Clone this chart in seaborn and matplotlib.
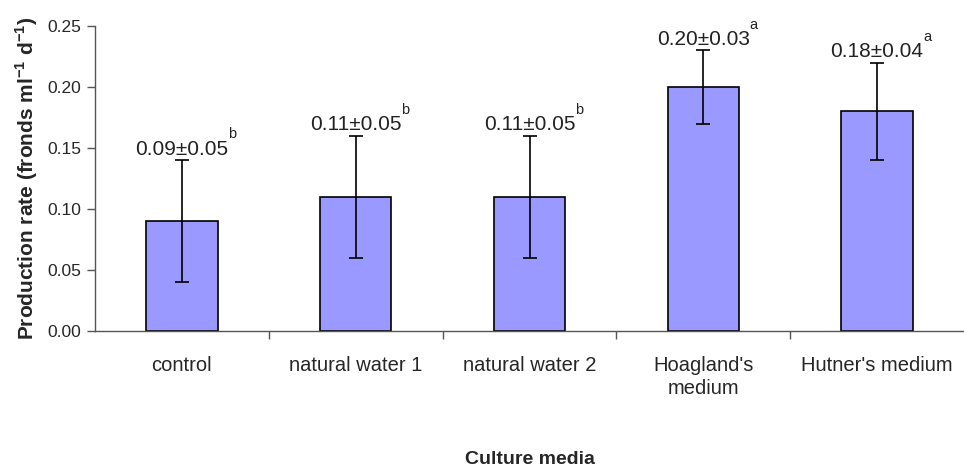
import matplotlib
matplotlib.use("Agg")
import matplotlib.pyplot as plt
import seaborn as sns
import pandas as pd
from matplotlib.ticker import FormatStrFormatter, FixedLocator

categories = ["control", "natural water 1", "natural water 2", "Hoagland's\nmedium", "Hutner's medium"]
means = [0.09, 0.11, 0.11, 0.20, 0.18]
sds = [0.05, 0.05, 0.05, 0.03, 0.04]
letters = ["b", "b", "b", "a", "a"]

sns.set_style("ticks")
plt.rcParams["font.family"] = ["Liberation Sans", "DejaVu Sans"]

df = pd.DataFrame({"media": categories, "rate": means})

fig = plt.figure(figsize=(9.64, 4.70), dpi=100)
ax = fig.add_axes([95 / 964, (470 - 331) / 470, (964 - 95) / 964, (331 - 26) / 470])

sns.barplot(data=df, x="media", y="rate", ax=ax, color="#9999FF", saturation=1,
            width=0.41, edgecolor="black", linewidth=1.2, errorbar=None)
ax.errorbar(range(len(means)), means, yerr=sds, fmt="none", ecolor="black",
            elinewidth=1.2, capsize=5, capthick=1.2)

for i, (m, s, l) in enumerate(zip(means, sds, letters)):
    t = ax.annotate(f"{m:.2f}±{s:.2f}", xy=(i, m + s), xytext=(0, 1), textcoords="offset points",
                    ha="center", va="bottom", fontsize=15, color="#222222")
    ax.annotate(l, xy=(1.0, 0.92), xycoords=t, ha="left", va="bottom", fontsize=10.5, color="#222222")

ax.set_xlim(-0.5, 4.5)
ax.set_ylim(0, 0.25)
ax.set_yticks([0, 0.05, 0.10, 0.15, 0.20, 0.25])
ax.yaxis.set_major_formatter(FormatStrFormatter("%.2f"))
ax.tick_params(axis="y", labelsize=12.5, length=6, width=1, color="#555555", pad=4)
ax.tick_params(axis="x", which="major", length=0, labelsize=14.5, pad=18)
ax.xaxis.set_minor_locator(FixedLocator([0.5, 1.5, 2.5, 3.5]))
ax.tick_params(axis="x", which="minor", length=6, width=1, color="#555555", direction="out")
for lab in ax.get_xticklabels():
    lab.set_linespacing(1.3)

sns.despine(ax=ax)
for sp in ["left", "bottom"]:
    ax.spines[sp].set_color("#555555")
    ax.spines[sp].set_linewidth(1)

ax.set_ylabel("Production rate (fronds ml$^{\\mathregular{-1}}$ d$^{\\mathregular{-1}}$)",
              fontsize=15, fontweight="bold", labelpad=5)
ax.set_xlabel("")
fig.text(530 / 964, 1 - 460 / 470, "Culture media", ha="center", va="center",
         fontsize=14, fontweight="bold")

fig.savefig("out.png", dpi=100)
